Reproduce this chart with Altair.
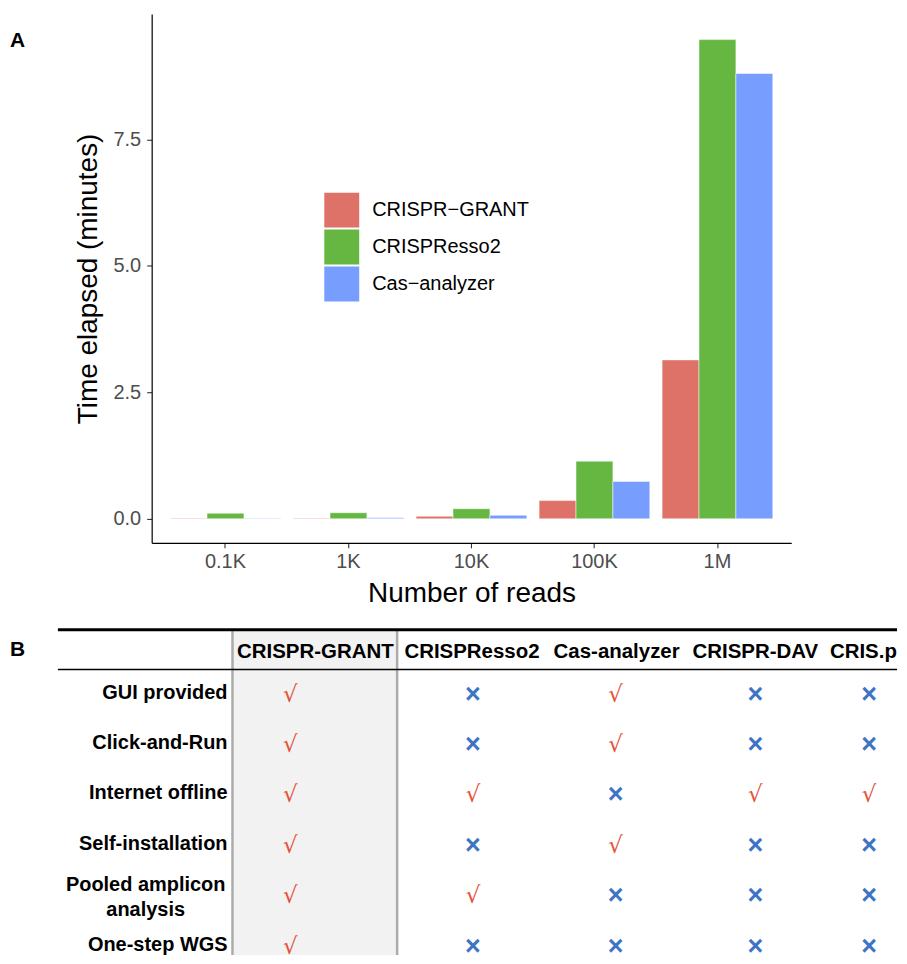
import altair as alt
import pandas as pd

# ---------------- data ----------------
reads = ["0.1K", "1K", "10K", "100K", "1M"]
tools_a = ["CRISPR\u2212GRANT", "CRISPResso2", "Cas\u2212analyzer"]
grant_min = [0.01, 0.01, 0.05, 0.36, 3.14]
resso_min = [0.11, 0.12, 0.20, 1.14, 9.47]
cas_min = [0.01, 0.02, 0.07, 0.74, 8.80]
bar_colors = ["#DE7168", "#65B742", "#779DFF"]

tools_b = ["CRISPR-GRANT", "CRISPResso2", "Cas-analyzer", "CRISPR-DAV", "CRIS.py"]
features = ["GUI provided", "Click-and-Run", "Internet offline",
            "Self-installation", "Pooled amplicon\nanalysis", "One-step WGS"]
support_grant = [1, 1, 1, 1, 1, 1]
support_resso = [0, 0, 1, 0, 1, 0]
support_cas = [1, 1, 0, 1, 0, 0]
support_dav = [0, 0, 1, 0, 0, 0]
support_cris = [0, 0, 1, 0, 0, 0]

FONT = "Liberation Sans"
CHECK_RED = "#E5533D"
CROSS_BLUE = "#3D74C5"

# ---------------- panel A ----------------
rows_a = []
for t, vals in zip(tools_a, [grant_min, resso_min, cas_min]):
    for r, v in zip(reads, vals):
        rows_a.append({"reads": r, "tool": t, "minutes": v})
df_a = pd.DataFrame(rows_a)

bars = alt.Chart(df_a).mark_bar(stroke="white", strokeWidth=0.5).encode(
    x=alt.X("reads:N", sort=reads,
            scale=alt.Scale(paddingInner=0.1, paddingOuter=0.15),
            axis=alt.Axis(title="Number of reads", labelAngle=0, labelFont=FONT,
                          labelFontSize=20, labelColor="#4D4D4D", labelPadding=4,
                          tickSize=5, tickColor="#333333", tickWidth=1.1,
                          domainColor="black", domainWidth=1.2,
                          titleFont=FONT, titleFontSize=28, titleFontWeight="normal",
                          titleColor="black", titlePadding=8, grid=False)),
    xOffset=alt.XOffset("tool:N", sort=tools_a,
                        scale=alt.Scale(paddingInner=0, paddingOuter=0)),
    y=alt.Y("minutes:Q", stack=None,
            scale=alt.Scale(domain=[-0.475, 9.975], nice=False, zero=False),
            axis=alt.Axis(title="Time elapsed (minutes)", values=[0, 2.5, 5, 7.5],
                          format=".1f", labelFont=FONT, labelFontSize=20,
                          labelColor="#4D4D4D", labelPadding=6, tickSize=5,
                          tickColor="#333333", tickWidth=1.1,
                          domainColor="black", domainWidth=1.2,
                          titleFont=FONT, titleFontSize=28, titleFontWeight="normal",
                          titleColor="black", titlePadding=10, grid=False)),
    y2=alt.datum(0),
    color=alt.Color("tool:N", sort=tools_a,
                    scale=alt.Scale(domain=tools_a, range=bar_colors),
                    legend=alt.Legend(title=None, orient="none", legendX=173, legendY=179,
                                      symbolType="square", symbolSize=1225,
                                      symbolStrokeWidth=0, symbolOpacity=1,
                                      labelFont=FONT, labelFontSize=20,
                                      labelColor="black", labelOffset=13,
                                      rowPadding=2, padding=0)),
)

label_a = alt.Chart(pd.DataFrame({"t": ["A"]})).mark_text(
    align="left", baseline="middle", fontSize=21, fontWeight="bold", font=FONT,
    color="black"
).encode(x=alt.value(-142), y=alt.value(27), text="t:N")

panel_a = alt.layer(bars, label_a).properties(width=641, height=530)

# ---------------- panel B ----------------
# plot origin shares panel A's left edge; table spills to the left of it
WB, HB = 747, 326
XL = -94  # left end of the table rules
support_all = [support_grant, support_resso, support_cas, support_dav, support_cris]
rows_b = []
for ci, (tool, sup) in enumerate(zip(tools_b, support_all)):
    for ri, s in enumerate(sup):
        rows_b.append({"col": ci, "row": ri, "ok": s})
df_marks = pd.DataFrame(rows_b)
df_head = pd.DataFrame({"col": list(range(len(tools_b))), "tool": tools_b})
df_feat = pd.DataFrame({"row": list(range(len(features))), "feature": features})

row_scale = alt.Scale(domain=[0, 5], range=[63, 316])
head_scale = alt.Scale(domain=[0, 1, 2, 3, 4], range=[164, 321, 466, 605, 719])
mark_scale = alt.Scale(domain=[0, 1, 2, 3, 4], range=[139, 322, 465, 605, 719])

one = pd.DataFrame({"k": [0]})
bg = alt.Chart(one).mark_rect(color="#F2F2F2").encode(
    x=alt.value(81), x2=alt.value(246), y=alt.value(0), y2=alt.value(HB))
vline1 = alt.Chart(one).mark_rule(color="#ABABAB", strokeWidth=2.5).encode(
    x=alt.value(81), y=alt.value(0), y2=alt.value(HB))
vline2 = alt.Chart(one).mark_rule(color="#ABABAB", strokeWidth=2.5).encode(
    x=alt.value(246), y=alt.value(0), y2=alt.value(HB))
top_line = alt.Chart(one).mark_rule(color="black", strokeWidth=3).encode(
    x=alt.value(XL), x2=alt.value(WB), y=alt.value(0))
head_line = alt.Chart(one).mark_rule(color="black", strokeWidth=1.5).encode(
    x=alt.value(XL), x2=alt.value(WB), y=alt.value(40))

header = alt.Chart(df_head).mark_text(
    fontSize=20.5, fontWeight="bold", font=FONT, baseline="middle", color="black",
    dy=1, clip=True
).encode(x=alt.X("col:Q", scale=head_scale, axis=None), y=alt.value(21), text="tool:N")

feat_single = alt.Chart(df_feat).transform_filter(
    "indexof(datum.feature, '\\n') < 0"
).mark_text(
    fontSize=20, fontWeight="bold", font=FONT, align="right", baseline="middle", color="black"
).encode(x=alt.value(76), y=alt.Y("row:Q", scale=row_scale, axis=None), text="feature:N")

feat_multi = alt.Chart(df_feat).transform_filter(
    "indexof(datum.feature, '\\n') >= 0"
).mark_text(
    fontSize=20, fontWeight="bold", font=FONT, align="center", baseline="middle",
    color="black", lineBreak="\n", lineHeight=25, dy=-9
).encode(x=alt.value(-6), y=alt.Y("row:Q", scale=row_scale, axis=None), text="feature:N")

checks = alt.Chart(df_marks).transform_filter("datum.ok == 1").mark_text(
    text="\u221A", fontSize=23, font="DejaVu Sans", baseline="middle", dy=2, clip=True,
    color=CHECK_RED
).encode(
    x=alt.X("col:Q", scale=mark_scale, axis=None),
    y=alt.Y("row:Q", scale=row_scale, axis=None),
)
crosses = alt.Chart(df_marks).transform_filter("datum.ok == 0").mark_text(
    text="\u00D7", fontSize=27, fontWeight="bold", font=FONT, baseline="middle", dy=2,
    clip=True, color=CROSS_BLUE
).encode(
    x=alt.X("col:Q", scale=mark_scale, axis=None),
    y=alt.Y("row:Q", scale=row_scale, axis=None),
)

label_b = alt.Chart(pd.DataFrame({"t": ["B"]})).mark_text(
    align="left", baseline="middle", fontSize=21, fontWeight="bold", font=FONT, color="black"
).encode(x=alt.value(-142), y=alt.value(20), text="t:N")

panel_b = alt.layer(bg, vline1, vline2, top_line, head_line, header, feat_single,
                    feat_multi, checks, crosses, label_b).resolve_scale(
    x="independent").properties(width=WB, height=HB)

chart = alt.vconcat(panel_a, panel_b, spacing=20).properties(
    padding={"left": 2, "top": 5, "right": 0, "bottom": 0},
    background="white",
).configure_view(stroke=None)

chart.save("out.html", embed_options={"renderer": "svg", "actions": False})
